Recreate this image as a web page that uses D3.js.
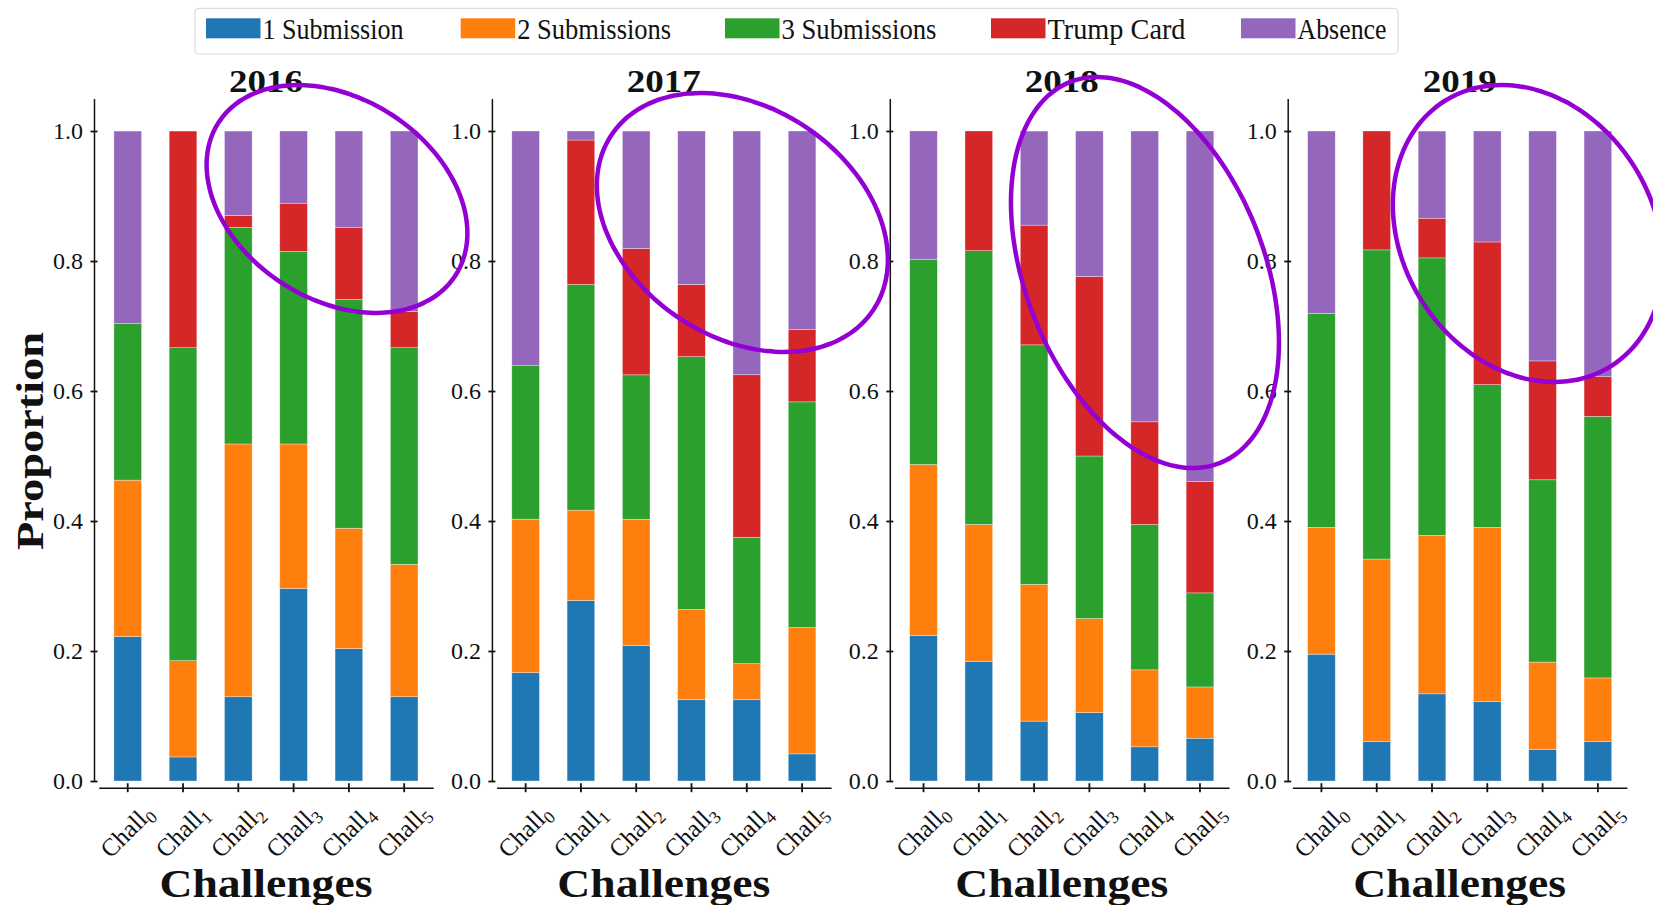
<!DOCTYPE html>
<html>
<head>
<meta charset="utf-8">
<script src="https://cdn.jsdelivr.net/npm/d3@7"></script>
<style>
  body { margin: 0; background: #fff; }
  svg { display: block; }
  text { font-family: "Liberation Serif", "Times New Roman", serif; fill: #111; }
</style>
</head>
<body>
<svg id="chart" width="1653" height="905"></svg>
<script>
// ---- data -------------------------------------------------------------
const years = ["2016", "2017", "2018", "2019"];
const challenges = ["0", "1", "2", "3", "4", "5"];
const seriesNames = ["1 Submission", "2 Submissions", "3 Submissions", "Trump Card", "Absence"];
const seriesKeys = ["one", "two", "three", "trump", "absent"];
const yTickValues = [0, 0.2, 0.4, 0.6, 0.8, 1.0];

// proportion of teams per challenge; one row per year
const oneSubmission = [
  [0.2222, 0.0370, 0.1296, 0.2963, 0.2037, 0.1296],
  [0.1667, 0.2778, 0.2083, 0.1250, 0.1250, 0.0417],
  [0.2237, 0.1842, 0.0921, 0.1053, 0.0526, 0.0658],
  [0.1951, 0.0610, 0.1341, 0.1220, 0.0488, 0.0610]
];
const twoSubmissions = [
  [0.2407, 0.1481, 0.3889, 0.2222, 0.1852, 0.2037],
  [0.2361, 0.1389, 0.1944, 0.1389, 0.0556, 0.1944],
  [0.2632, 0.2105, 0.2105, 0.1447, 0.1184, 0.0789],
  [0.1951, 0.2805, 0.2439, 0.2683, 0.1341, 0.0976]
];
const threeSubmissions = [
  [0.2407, 0.4815, 0.3333, 0.2963, 0.3519, 0.3333],
  [0.2361, 0.3472, 0.2222, 0.3889, 0.1944, 0.3472],
  [0.3158, 0.4211, 0.3684, 0.2500, 0.2237, 0.1447],
  [0.3293, 0.4756, 0.4268, 0.2195, 0.2805, 0.4024]
];
const trumpCard = [
  [0, 0.3333, 0.0185, 0.0741, 0.1111, 0.0556],
  [0, 0.2222, 0.1944, 0.1111, 0.2500, 0.1111],
  [0, 0.1842, 0.1842, 0.2763, 0.1579, 0.1711],
  [0, 0.1829, 0.0610, 0.2195, 0.1829, 0.0610]
];
const absence = [
  [0.2963, 0, 0.1296, 0.1111, 0.1481, 0.2778],
  [0.3611, 0.0139, 0.1806, 0.2361, 0.3750, 0.3056],
  [0.1974, 0, 0.1447, 0.2237, 0.4474, 0.5395],
  [0.2805, 0, 0.1341, 0.1707, 0.3537, 0.3780]
];

// highlighted regions (challenge index / proportion units):
// centre, and the two conjugate semi-axis vectors of each ellipse
const highlightCentre = [[3.785, 0.8954], [3.920, 0.8592], [4.005, 0.7823], [3.734, 0.8423]];
const highlightAxisU = [[2.143, -0.1175], [2.364, -0.1351], [1.351, -0.2932], [1.499, -0.2042]];
const highlightAxisV = [[-0.984, -0.1300], [-1.156, -0.1463], [-2.012, -0.0671], [-1.928, -0.1025]];

// ---- layout & styles ---------------------------------------------------
const colors = ["#1f77b4", "#ff7f0e", "#2ca02c", "#d62728", "#9467bd"];
const W = 1653, H = 905;
const panelStart = 98.7, panelWidth = 334.5, panelStep = 397.9;
const yTop = 98.5, yBottom = 781;
const spineOffsetX = 4.7, spineOffsetY = 6.7;

const svg = d3.select("#chart");
svg.append("rect").attr("width", W).attr("height", H).attr("fill", "#fff");

const y = d3.scaleLinear().domain([0, 1.05]).range([yBottom, yTop]);
const stack = d3.stack().keys(seriesKeys);
const seriesTables = [oneSubmission, twoSubmissions, threeSubmissions, trumpCard, absence];

const panelScales = [];

years.forEach((year, k) => {
  const left = panelStart + panelStep * k;
  const x = d3.scaleBand()
    .domain(challenges)
    .range([left, left + panelWidth])
    .paddingInner(0.5)
    .paddingOuter(0.275);
  panelScales.push(x);

  const rows = challenges.map((c, i) => {
    const r = { chall: c };
    seriesKeys.forEach((key, s) => { r[key] = seriesTables[s][k][i]; });
    return r;
  });
  const layers = stack(rows);

  const g = svg.append("g").attr("class", "panel");

  // stacked bars
  g.selectAll("g.layer")
    .data(layers)
    .join("g")
    .attr("class", "layer")
    .attr("fill", (d, i) => colors[i])
    .selectAll("rect")
    .data(d => d.filter(p => p[1] - p[0] > 0))
    .join("rect")
    .attr("x", d => x(d.data.chall))
    .attr("width", x.bandwidth())
    .attr("y", d => y(d[1]))
    .attr("height", d => y(d[0]) - y(d[1]))
    .attr("stroke", "#ffffff")
    .attr("stroke-opacity", 0.55)
    .attr("stroke-width", 0.6);

  // y axis (offset spine, ticks crossing it)
  const yAxis = g.append("g")
    .attr("transform", `translate(${left - spineOffsetX},0)`)
    .call(d3.axisLeft(y).tickValues(yTickValues).tickFormat(d3.format(".1f"))
      .tickSizeOuter(0).tickSizeInner(3.5).tickPadding(7.5));
  yAxis.select(".domain").attr("stroke", "#111").attr("stroke-width", 1.5);
  yAxis.selectAll(".tick line").attr("x1", 3.5).attr("stroke", "#111").attr("stroke-width", 1.8);
  yAxis.selectAll(".tick text")
    .attr("font-size", 24)
    .attr("font-family", "Liberation Serif, serif")
    .attr("fill", "#333");

  // x axis
  const xAxis = g.append("g")
    .attr("transform", `translate(0,${yBottom + spineOffsetY})`)
    .call(d3.axisBottom(x).tickSizeOuter(0).tickSizeInner(4.5).tickFormat(""));
  xAxis.select(".domain").attr("stroke", "#111").attr("stroke-width", 1.5);
  xAxis.selectAll(".tick line").attr("y1", -4.5).attr("stroke", "#111").attr("stroke-width", 1.8);
  xAxis.selectAll(".tick text").remove();

  // rotated challenge labels with subscript index
  challenges.forEach(c => {
    const cx = x(c) + x.bandwidth() / 2;
    const t = g.append("g")
      .attr("transform", `translate(${cx},832) rotate(-45)`)
      .append("text")
      .attr("text-anchor", "middle")
      .attr("y", 7)
      .attr("font-size", 25)
      .attr("fill", "#333");
    t.append("tspan").text("Chall");
    t.append("tspan").attr("font-size", 17.5).attr("dy", 5).text(c);
  });

  // panel title
  g.append("text")
    .attr("x", left + panelWidth / 2)
    .attr("y", 92)
    .attr("text-anchor", "middle")
    .attr("font-size", 32)
    .attr("font-weight", "bold")
    .attr("textLength", 74)
    .attr("lengthAdjust", "spacingAndGlyphs")
    .attr("fill", "#000")
    .text(year);

  // x-axis title
  g.append("text")
    .attr("x", left + panelWidth / 2)
    .attr("y", 896.5)
    .attr("text-anchor", "middle")
    .attr("font-size", 40)
    .attr("font-weight", "bold")
    .attr("textLength", 213)
    .attr("lengthAdjust", "spacingAndGlyphs")
    .attr("fill", "#000")
    .text("Challenges");
});

// y-axis title
svg.append("text")
  .attr("transform", "translate(43,441) rotate(-90)")
  .attr("text-anchor", "middle")
  .attr("font-size", 38)
  .attr("font-weight", "bold")
  .attr("textLength", 218)
  .attr("lengthAdjust", "spacingAndGlyphs")
  .attr("fill", "#000")
  .text("Proportion");

// legend
const legend = svg.append("g").attr("class", "legend");
legend.append("rect")
  .attr("x", 195).attr("y", 8.3)
  .attr("width", 1203).attr("height", 45.7)
  .attr("rx", 4)
  .attr("fill", "#fff")
  .attr("stroke", "#dddddd")
  .attr("stroke-width", 1.2);
const legendX = [206, 460.7, 725, 991, 1241];
const legendTextWidth = [141, 154, 155, 138, 89];
seriesNames.forEach((name, i) => {
  legend.append("rect")
    .attr("x", legendX[i]).attr("y", 18.3)
    .attr("width", 54.5).attr("height", 20)
    .attr("fill", colors[i]);
  legend.append("text")
    .attr("x", legendX[i] + 56.5)
    .attr("y", 38.5)
    .attr("font-size", 29)
    .attr("textLength", legendTextWidth[i])
    .attr("lengthAdjust", "spacingAndGlyphs")
    .attr("fill", "#222")
    .text(name);
});

// highlight ellipses, drawn in data space of each panel
const ts = d3.range(0, 361, 3).map(d => d * Math.PI / 180);
highlightCentre.forEach((c, k) => {
  const xb = panelScales[k];
  const step = xb.step();
  const x0 = xb(challenges[0]) + xb.bandwidth() / 2;
  const xPos = idx => x0 + idx * step;
  const u = highlightAxisU[k], v = highlightAxisV[k];
  const pts = ts.map(t => [
    c[0] + Math.cos(t) * u[0] + Math.sin(t) * v[0],
    c[1] + Math.cos(t) * u[1] + Math.sin(t) * v[1]
  ]);
  svg.append("path")
    .datum(pts)
    .attr("d", d3.line().x(p => xPos(p[0])).y(p => y(p[1])).curve(d3.curveCardinalClosed))
    .attr("fill", "none")
    .attr("stroke", "#9400d3")
    .attr("stroke-width", 4.5);
});
</script>
</body>
</html>
